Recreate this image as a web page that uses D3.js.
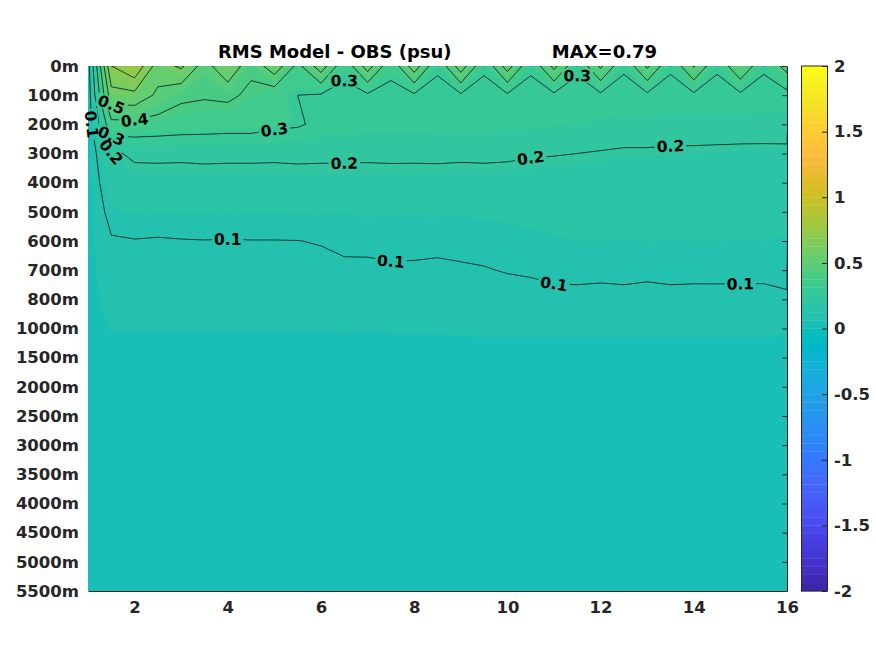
<!DOCTYPE html>
<meta charset="utf-8">
<script src="https://d3js.org/d3.v7.min.js"></script>
<style>
  body { margin: 0; background: #fff; }
  text { font-family: "DejaVu Sans", sans-serif; font-weight: bold; }
</style>
<svg id="chart"></svg>
<script>
// grid columns (x) and depth rows (y)
var xValues = [1, 1.5, 2, 2.5, 3, 3.5, 4, 4.5, 5, 5.5, 6, 6.5, 7, 7.5, 8, 8.5,
  9, 9.5, 10, 10.5, 11, 11.5, 12, 12.5, 13, 13.5, 14, 14.5, 15, 15.5, 16];
var depthLabels = ["0m", "100m", "200m", "300m", "400m", "500m", "600m", "700m", "800m",
  "1000m", "1500m", "2000m", "2500m", "3000m", "3500m", "4000m", "4500m", "5000m", "5500m"];

// RMS (psu), one row per depth level
var rms0 = [0.06, 0.70, 0.79, 0.55, 0.62, 0.45, 0.60, 0.42, 0.57, 0.37, 0.56, 0.32, 0.55, 0.32, 0.56, 0.31, 0.56, 0.31, 0.55, 0.31, 0.53, 0.31, 0.52, 0.31, 0.52, 0.31, 0.51, 0.31, 0.50, 0.31, 0.44];
var rms1 = [0.05, 0.56, 0.57, 0.48, 0.42, 0.41, 0.42, 0.38, 0.33, 0.30, 0.29, 0.28, 0.285, 0.28, 0.285, 0.28, 0.285, 0.28, 0.285, 0.28, 0.28, 0.28, 0.28, 0.275, 0.28, 0.275, 0.28, 0.275, 0.28, 0.275, 0.27];
var rms2 = [0.05, 0.37, 0.37, 0.36, 0.35, 0.345, 0.34, 0.34, 0.32, 0.31, 0.28, 0.275, 0.27, 0.27, 0.27, 0.265, 0.265, 0.265, 0.26, 0.26, 0.255, 0.25, 0.245, 0.24, 0.24, 0.235, 0.235, 0.235, 0.235, 0.235, 0.235];
var rms3 = [0.05, 0.19, 0.21, 0.212, 0.21, 0.213, 0.211, 0.212, 0.21, 0.213, 0.211, 0.212, 0.21, 0.212, 0.211, 0.213, 0.21, 0.212, 0.21, 0.205, 0.203, 0.2, 0.195, 0.19, 0.19, 0.188, 0.187, 0.185, 0.183, 0.182, 0.183];
var rms4 = [0.05, 0.15, 0.178, 0.176, 0.178, 0.177, 0.178, 0.176, 0.178, 0.177, 0.178, 0.176, 0.178, 0.177, 0.178, 0.176, 0.177, 0.176, 0.175, 0.172, 0.17, 0.17, 0.168, 0.168, 0.167, 0.167, 0.166, 0.166, 0.165, 0.165, 0.165];
var rms5 = [0.05, 0.12, 0.128, 0.127, 0.128, 0.128, 0.127, 0.128, 0.127, 0.128, 0.128, 0.127, 0.128, 0.127, 0.128, 0.128, 0.127, 0.13, 0.132, 0.135, 0.138, 0.14, 0.14, 0.14, 0.14, 0.14, 0.14, 0.14, 0.14, 0.14, 0.138];
var rms6 = [0.05, 0.095, 0.098, 0.096, 0.098, 0.099, 0.098, 0.099, 0.099, 0.0995, 0.102, 0.107, 0.11, 0.109, 0.11, 0.108, 0.11, 0.112, 0.115, 0.118, 0.122, 0.125, 0.125, 0.124, 0.125, 0.124, 0.125, 0.125, 0.124, 0.125, 0.122];
var rms7 = [0.05, 0.085, 0.085, 0.083, 0.085, 0.085, 0.086, 0.085, 0.086, 0.087, 0.09, 0.094, 0.092, 0.096, 0.095, 0.094, 0.096, 0.098, 0.102, 0.104, 0.107, 0.108, 0.107, 0.108, 0.106, 0.108, 0.107, 0.108, 0.107, 0.106, 0.104];
var rms8 = [0.05, 0.075, 0.075, 0.075, 0.075, 0.075, 0.076, 0.075, 0.076, 0.076, 0.077, 0.078, 0.078, 0.079, 0.079, 0.08, 0.08, 0.082, 0.085, 0.088, 0.092, 0.092, 0.091, 0.092, 0.091, 0.092, 0.092, 0.091, 0.092, 0.093, 0.098];
var rms9 = [0.05, 0.064, 0.064, 0.064, 0.064, 0.064, 0.064, 0.064, 0.064, 0.064, 0.064, 0.065, 0.064, 0.065, 0.065, 0.066, 0.067, 0.068, 0.068, 0.068, 0.068, 0.068, 0.068, 0.068, 0.068, 0.068, 0.068, 0.068, 0.068, 0.068, 0.067];
var rms10 = [0.045, 0.05, 0.05, 0.05, 0.05, 0.05, 0.05, 0.05, 0.05, 0.05, 0.05, 0.05, 0.05, 0.05, 0.05, 0.05, 0.05, 0.05, 0.05, 0.05, 0.05, 0.05, 0.05, 0.05, 0.05, 0.05, 0.05, 0.05, 0.05, 0.05, 0.05];
var rms11 = [0.043, 0.046, 0.046, 0.046, 0.046, 0.046, 0.046, 0.046, 0.046, 0.046, 0.046, 0.046, 0.046, 0.046, 0.046, 0.046, 0.046, 0.046, 0.046, 0.046, 0.046, 0.046, 0.046, 0.046, 0.046, 0.046, 0.046, 0.046, 0.046, 0.046, 0.046];
var rms12 = [0.042, 0.044, 0.044, 0.044, 0.044, 0.044, 0.044, 0.044, 0.044, 0.044, 0.044, 0.044, 0.044, 0.044, 0.044, 0.044, 0.044, 0.044, 0.044, 0.044, 0.044, 0.044, 0.044, 0.044, 0.044, 0.044, 0.044, 0.044, 0.044, 0.044, 0.044];
var rms13 = [0.041, 0.042, 0.042, 0.042, 0.042, 0.042, 0.042, 0.042, 0.042, 0.042, 0.042, 0.042, 0.042, 0.042, 0.042, 0.042, 0.042, 0.042, 0.042, 0.042, 0.042, 0.042, 0.042, 0.042, 0.042, 0.042, 0.042, 0.042, 0.042, 0.042, 0.042];
var rms14 = [0.040, 0.041, 0.041, 0.041, 0.041, 0.041, 0.041, 0.041, 0.041, 0.041, 0.041, 0.041, 0.041, 0.041, 0.041, 0.041, 0.041, 0.041, 0.041, 0.041, 0.041, 0.041, 0.041, 0.041, 0.041, 0.041, 0.041, 0.041, 0.041, 0.041, 0.041];
var rms15 = [0.039, 0.040, 0.040, 0.040, 0.040, 0.040, 0.040, 0.040, 0.040, 0.040, 0.040, 0.040, 0.040, 0.040, 0.040, 0.040, 0.040, 0.040, 0.040, 0.040, 0.040, 0.040, 0.040, 0.040, 0.040, 0.040, 0.040, 0.040, 0.040, 0.040, 0.040];
var rms16 = [0.038, 0.039, 0.039, 0.039, 0.039, 0.039, 0.039, 0.039, 0.039, 0.039, 0.039, 0.039, 0.039, 0.039, 0.039, 0.039, 0.039, 0.039, 0.039, 0.039, 0.039, 0.039, 0.039, 0.039, 0.039, 0.039, 0.039, 0.039, 0.039, 0.039, 0.039];
var rms17 = [0.037, 0.038, 0.038, 0.038, 0.038, 0.038, 0.038, 0.038, 0.038, 0.038, 0.038, 0.038, 0.038, 0.038, 0.038, 0.038, 0.038, 0.038, 0.038, 0.038, 0.038, 0.038, 0.038, 0.038, 0.038, 0.038, 0.038, 0.038, 0.038, 0.038, 0.038];
var rms18 = [0.037, 0.038, 0.038, 0.038, 0.038, 0.038, 0.038, 0.038, 0.038, 0.038, 0.038, 0.038, 0.038, 0.038, 0.038, 0.038, 0.038, 0.038, 0.038, 0.038, 0.038, 0.038, 0.038, 0.038, 0.038, 0.038, 0.038, 0.038, 0.038, 0.038, 0.038];
var rmsRows = [rms0, rms1, rms2, rms3, rms4, rms5, rms6, rms7, rms8, rms9,
  rms10, rms11, rms12, rms13, rms14, rms15, rms16, rms17, rms18];

var xTicks = [2, 4, 6, 8, 10, 12, 14, 16];
var colorTicks = [-2, -1.5, -1, -0.5, 0, 0.5, 1, 1.5, 2];
var lineLevels = [0.1, 0.2, 0.3, 0.4, 0.5, 0.6, 0.7];
// contour labels: level, x, depth index
var labelLevels = [0.3, 0.3, 0.3, 0.5, 0.4, 0.3, 0.2, 0.1, 0.2, 0.2, 0.2, 0.1, 0.1, 0.1, 0.1];
var labelX = [6.36, 11.28, 4.8, 1.43, 1.77, 1.62, 1.54, 1.06, 6.34, 10.57, 13.7, 3.81, 7.44, 11.21, 15.03];
var labelD = [0.72, 0.62, 1.5, 1.23, 1.95, 2.23, 2.88, 2.3, 3.29, 3.22, 2.74, 5.76, 6.86, 7.37, 7.5];
var title = "RMS Model - OBS (psu)                MAX=0.79";

// parula colormap, 64 entries
var parula = [
  [0.2422,0.1504,0.6603],[0.2504,0.1650,0.7076],[0.2578,0.1818,0.7511],[0.2647,0.1978,0.7952],
  [0.2706,0.2147,0.8364],[0.2751,0.2342,0.8710],[0.2783,0.2559,0.8991],[0.2803,0.2782,0.9221],
  [0.2813,0.3006,0.9414],[0.2810,0.3228,0.9579],[0.2795,0.3447,0.9717],[0.2760,0.3667,0.9829],
  [0.2699,0.3892,0.9906],[0.2602,0.4123,0.9952],[0.2440,0.4358,0.9988],[0.2206,0.4603,0.9973],
  [0.1963,0.4847,0.9892],[0.1834,0.5074,0.9798],[0.1786,0.5289,0.9682],[0.1764,0.5499,0.9520],
  [0.1687,0.5703,0.9359],[0.1540,0.5902,0.9218],[0.1460,0.6091,0.9079],[0.1380,0.6276,0.8973],
  [0.1248,0.6459,0.8883],[0.1113,0.6635,0.8763],[0.0952,0.6798,0.8598],[0.0689,0.6948,0.8394],
  [0.0297,0.7082,0.8163],[0.0036,0.7203,0.7917],[0.0067,0.7312,0.7660],[0.0433,0.7411,0.7394],
  [0.0964,0.7500,0.7120],[0.1408,0.7584,0.6842],[0.1717,0.7670,0.6554],[0.1938,0.7758,0.6251],
  [0.2161,0.7843,0.5923],[0.2470,0.7918,0.5567],[0.2906,0.7973,0.5188],[0.3406,0.8008,0.4789],
  [0.3909,0.8029,0.4354],[0.4456,0.8024,0.3909],[0.5044,0.7993,0.3480],[0.5616,0.7942,0.3045],
  [0.6174,0.7876,0.2612],[0.6720,0.7793,0.2227],[0.7242,0.7698,0.1910],[0.7738,0.7598,0.1646],
  [0.8203,0.7498,0.1535],[0.8634,0.7406,0.1596],[0.9035,0.7330,0.1774],[0.9393,0.7288,0.2100],
  [0.9728,0.7298,0.2394],[0.9956,0.7434,0.2371],[0.9970,0.7659,0.2199],[0.9952,0.7893,0.2028],
  [0.9892,0.8136,0.1885],[0.9786,0.8386,0.1766],[0.9676,0.8639,0.1643],[0.9610,0.8890,0.1537],
  [0.9597,0.9135,0.1423],[0.9628,0.9373,0.1265],[0.9691,0.9606,0.1064],[0.9769,0.9839,0.0805]
].map(function (c) { return d3.rgb(c[0] * 255, c[1] * 255, c[2] * 255).formatHex(); });

var width = 875, height = 656;
var svg = d3.select("#chart").attr("width", width).attr("height", height);

var x = d3.scaleLinear().domain([1, 16]).range([88, 787]);
var y = d3.scaleLinear().domain([0, depthLabels.length - 1]).range([66, 591]);
var c = d3.scaleLinear().domain([-2, 2]).range([591, 66]);
var cmin = -2, cstep = 4 / parula.length;

var nx = xValues.length, ny = rmsRows.length;

// column index -> x value
function colToX(ci) {
  var i = Math.max(0, Math.min(nx - 2, Math.floor(ci)));
  return xValues[i] + (ci - i) * (xValues[i + 1] - xValues[i]);
}

// padded grid so every contour closes outside the plot
var W = nx + 2, H = ny + 2;
var grid = new Array(W * H).fill(-1);
rmsRows.forEach(function (row, j) {
  row.forEach(function (v, i) { grid[(j + 1) * W + i + 1] = v; });
});
var contours = d3.contours().size([W, H]);
var toPx = function (p) { return [x(colToX(p[0] - 1.5)), y(p[1] - 1.5)]; };
var path = d3.geoPath(d3.geoTransform({
  point: function (px, py) { var q = toPx([px, py]); this.stream.point(q[0], q[1]); }
}));

var defs = svg.append("defs");
defs.append("clipPath").attr("id", "plotclip").append("rect")
  .attr("x", x(1)).attr("y", y(0)).attr("width", x(16) - x(1)).attr("height", y(18) - y(0));

// filled bands, one per colormap entry
var vmin = d3.min(rmsRows, function (r) { return d3.min(r); });
var vmax = d3.max(rmsRows, function (r) { return d3.max(r); });
var fillG = svg.append("g").attr("clip-path", "url(#plotclip)");
var k0 = Math.floor((vmin - cmin) / cstep);
fillG.append("rect").attr("x", x(1)).attr("y", y(0))
  .attr("width", x(16) - x(1)).attr("height", y(18) - y(0)).attr("fill", parula[k0]);
for (var k = k0 + 1; cmin + k * cstep <= vmax; k++) {
  fillG.append("path")
    .attr("d", path(contours.contour(grid, cmin + k * cstep)))
    .attr("fill", parula[k]).attr("stroke", parula[k]).attr("stroke-width", 0.3);
}

// contour lines with gaps for labels
var mask = defs.append("mask").attr("id", "gaps").attr("maskUnits", "userSpaceOnUse")
  .attr("x", 0).attr("y", 0).attr("width", width).attr("height", height);
mask.append("rect").attr("width", width).attr("height", height).attr("fill", "white");

var lineOuter = svg.append("g").attr("clip-path", "url(#plotclip)");
var lineG = lineOuter.append("g").attr("mask", "url(#gaps)");
var lineRings = {};
lineLevels.forEach(function (lv) {
  var ct = contours.contour(grid, lv);
  lineG.append("path").attr("d", path(ct))
    .attr("fill", "none").attr("stroke", "#000").attr("stroke-width", 0.7);
  var rings = [];
  ct.coordinates.forEach(function (poly) {
    poly.forEach(function (ring) { rings.push(ring.map(toPx)); });
  });
  lineRings[lv] = rings;
});

var labelG = svg.append("g");
labelLevels.forEach(function (lv, li) {
  var tx = x(labelX[li]), ty = y(labelD[li]);
  var best = null, bd = Infinity;
  lineRings[lv].forEach(function (ring, ri) {
    ring.forEach(function (p, pi) {
      if (p[0] < x(1) + 1 || p[0] > x(16) - 1 || p[1] < y(0) + 1 || p[1] > y(18) - 1) return;
      var d = (p[0] - tx) * (p[0] - tx) + (p[1] - ty) * (p[1] - ty);
      if (d < bd) { bd = d; best = [ri, pi]; }
    });
  });
  if (!best) return;
  var ring = lineRings[lv][best[0]], n = ring.length, p0 = ring[best[1]];
  function walk(step) {
    var i = best[1];
    for (var s = 0; s < n; s++) {
      i = (i + step + n) % n;
      var q = ring[i];
      if (Math.hypot(q[0] - p0[0], q[1] - p0[1]) >= 9) return q;
    }
    return ring[i];
  }
  var a = walk(-1), b = walk(1);
  var ang = Math.atan2(b[1] - a[1], b[0] - a[0]) * 180 / Math.PI;
  if (ang > 90) ang -= 180;
  if (ang <= -90) ang += 180;
  var t = labelG.append("text")
    .attr("transform", "translate(" + p0[0] + "," + p0[1] + ") rotate(" + ang + ")")
    .attr("text-anchor", "middle").attr("dy", "0.36em")
    .attr("font-size", 15.5).attr("fill", "#000")
    .text(String(lv));
  var len = t.node().getComputedTextLength() + 4;
  mask.append("rect")
    .attr("transform", "translate(" + p0[0] + "," + p0[1] + ") rotate(" + ang + ")")
    .attr("x", -len / 2).attr("y", -7).attr("width", len).attr("height", 14)
    .attr("fill", "black");
});

// axes
var axisColor = "#262626";
var yAxis = svg.append("g").attr("transform", "translate(" + x(1) + ",0)")
  .call(d3.axisLeft(y).tickValues(depthLabels.map(function (d, i) { return i; }))
    .tickFormat(function (i) { return depthLabels[i]; }).tickSize(0).tickPadding(9));
yAxis.select(".domain").remove();

var rAxis = svg.append("g").attr("transform", "translate(" + x(16) + ",0)")
  .call(d3.axisLeft(y).tickValues(depthLabels.map(function (d, i) { return i; }))
    .tickFormat("").tickSizeInner(5).tickSizeOuter(0));

var xAxis = svg.append("g").attr("transform", "translate(0," + y(18) + ")")
  .call(d3.axisBottom(x).tickValues(xTicks).tickSize(0).tickPadding(10));

svg.selectAll(".tick text").attr("font-size", 16.5).attr("fill", axisColor)
  .attr("font-family", "DejaVu Sans").attr("font-weight", "bold");
svg.selectAll(".domain, .tick line").attr("stroke", axisColor);

// colorbar
var cbX = 801, cbW = 26;
var cb = svg.append("g");
cb.selectAll("rect.band").data(parula).enter().append("rect").attr("class", "band")
  .attr("x", cbX).attr("width", cbW)
  .attr("y", function (d, i) { return c(cmin + (i + 1) * cstep); })
  .attr("height", function (d, i) { return c(cmin + i * cstep) - c(cmin + (i + 1) * cstep) + 0.3; })
  .attr("fill", function (d) { return d; });
cb.append("rect").attr("x", cbX + 0.5).attr("y", c(2)).attr("width", cbW)
  .attr("height", c(-2) - c(2)).attr("fill", "none").attr("stroke", axisColor);
var cAxis = svg.append("g").attr("transform", "translate(" + (cbX + cbW) + ",0)")
  .call(d3.axisRight(c).tickValues(colorTicks).tickSizeInner(-5).tickSizeOuter(0).tickPadding(7)
    .tickFormat(function (d) { return String(d).replace("\u2212", "-"); }));
cAxis.select(".domain").remove();
cAxis.selectAll("text").attr("font-size", 16.5).attr("fill", axisColor)
  .attr("font-family", "DejaVu Sans").attr("font-weight", "bold");
cAxis.selectAll(".tick line").attr("stroke", axisColor);

// title
svg.append("text").attr("x", (x(1) + x(16)) / 2).attr("y", 58)
  .attr("text-anchor", "middle").attr("font-size", 18).attr("fill", "#000")
  .style("white-space", "pre").text(title);
</script>
